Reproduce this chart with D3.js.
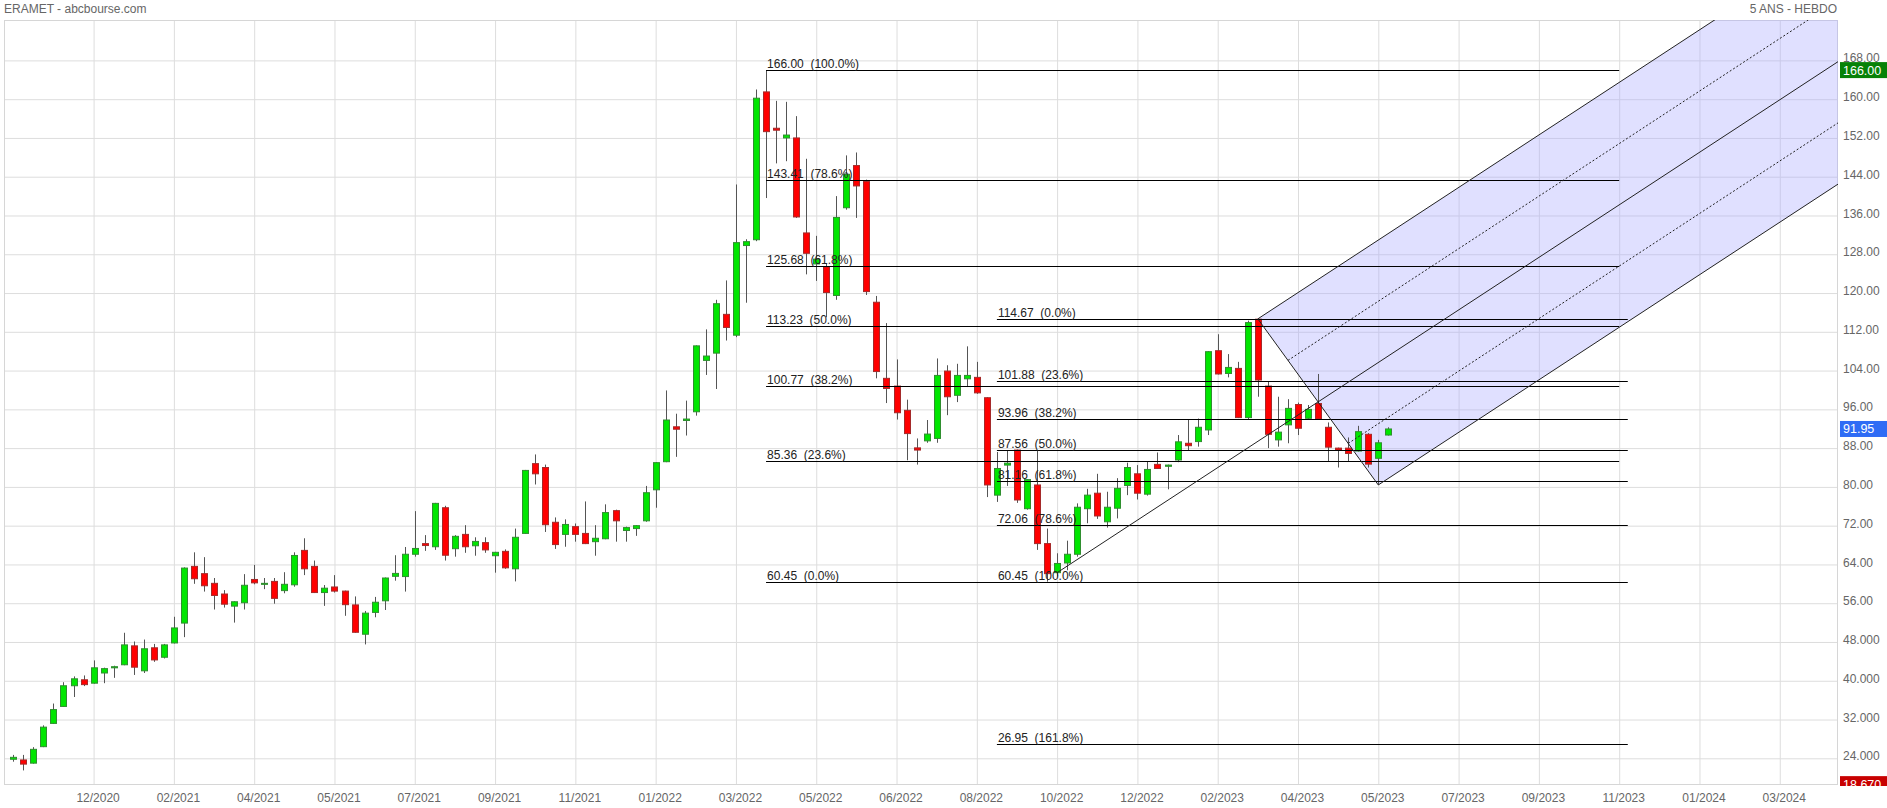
<!DOCTYPE html>
<html><head><meta charset="utf-8">
<script src="https://cdn.jsdelivr.net/npm/d3@7"></script>
<style>
html,body{margin:0;padding:0;background:#fff;overflow:hidden;}
svg{display:block;font-family:"Liberation Sans",Arial,Helvetica,sans-serif;}
</style></head><body>
<svg id="c" width="1887" height="808"></svg>
<script>
const title = "ERAMET - abcbourse.com";
const period = "5 ANS - HEBDO";
const firstWeek = "2020-10-19";

const open = [23.8,23.66,23.0,26.4,31.2,34.7,38.97,40.2,39.5,41.6,
 42.67,43.3,47.2,42.05,46.8,44.85,47.8,51.9,63.6,62.1,
 60.1,57.9,55.4,56.1,60.9,60.05,60.5,58.6,59.8,66.9,
 63.6,58.2,59.35,58.5,55.65,49.6,54.1,56.5,61.55,61.5,
 66.1,68.3,67.65,75.7,67.25,70.2,67.85,68.5,65.8,66.7,
 63.1,70.4,84.8,84.0,72.7,70.2,71.8,70.4,68.7,69.3,
 75.1,71.0,71.4,73.0,79.4,85.2,92.4,93.7,95.5,106.1,
 107.6,115.6,111.3,129.8,131.0,161.5,154.0,152.0,152.0,132.4,
 126.0,125.4,119.5,137.6,146.3,143.0,118.1,102.4,100.8,95.8,
 88.05,89.5,90.0,103.9,98.9,102.3,102.6,98.4,78.3,84.5,
 87.6,75.5,80.4,68.3,62.3,64.3,66.1,75.5,78.7,72.8,
 75.6,80.3,82.7,78.5,84.65,84.25,85.55,89.0,89.35,91.75,
 108.1,103.4,104.45,94.3,114.6,100.8,89.7,92.8,97.0,94.15,
 97.2,92.3,88.0,88.0,87.4,90.85,85.9,90.7];
const high = [24.7,24.7,26.3,30.8,35.3,39.7,40.9,41.1,44.2,42.7,
 43.1,49.9,48.1,48.5,47.6,47.6,53.2,63.4,66.5,65.5,
 61.2,58.7,56.4,62.0,63.9,61.2,61.2,62.4,66.5,69.4,
 64.8,59.75,61.8,58.6,57.4,54.4,57.3,61.3,65.9,67.6,
 75.0,70.05,76.7,76.1,70.05,72.1,69.6,69.6,66.6,67.1,
 71.4,83.5,86.7,84.6,73.7,73.3,72.45,77.0,72.1,76.4,
 75.3,71.8,72.1,80.2,85.1,99.9,95.1,97.8,109.2,112.5,
 118.6,122.6,142.4,131.1,162.0,166.0,159.65,159.45,156.5,147.7,
 131.8,126.0,140.0,148.4,149.0,143.4,119.4,113.8,106.3,98.0,
 90.0,93.8,106.5,105.1,105.4,109.0,105.8,98.5,87.2,87.6,
 87.7,81.6,87.6,71.4,66.3,68.9,76.6,79.6,82.7,79.0,
 81.8,85.0,84.5,85.3,87.1,84.6,90.7,93.8,94.1,108.0,
 111.5,107.4,105.8,114.3,114.67,101.7,98.6,98.1,97.4,96.9,
 103.3,93.3,88.1,90.2,92.6,91.1,89.7,92.3];
const low = [23.3,21.5,22.9,26.3,31.1,34.6,36.65,38.9,39.4,39.5,
 40.6,43.2,41.2,41.6,43.9,44.6,47.7,49.0,60.0,58.4,
 54.7,55.1,52.0,54.7,59.9,58.9,55.9,58.05,59.4,61.8,
 58.1,55.45,58.2,53.4,49.9,47.5,53.1,54.6,60.65,58.4,
 65.6,66.8,67.0,64.8,65.6,66.4,65.8,66.4,62.3,63.1,
 60.5,70.3,80.5,70.7,67.2,67.65,68.7,68.2,65.8,69.2,
 68.7,68.7,69.9,72.8,75.7,85.1,86.2,90.6,94.7,103.1,
 100.2,110.2,110.9,118.0,130.7,139.6,146.75,147.2,135.5,123.85,
 122.5,115.0,118.6,137.2,135.5,119.6,102.4,97.3,93.9,85.5,
 84.6,89.1,89.1,94.8,97.5,100.6,99.2,77.9,76.9,80.2,
 76.7,75.3,67.0,60.45,61.5,62.8,65.6,72.5,73.4,71.6,
 73.5,78.3,77.4,78.2,83.7,79.5,85.1,87.6,88.3,90.7,
 103.2,102.6,94.2,94.0,98.6,88.0,88.3,89.0,90.7,93.8,
 93.9,85.2,84.0,85.2,87.3,84.0,80.4,90.6];
const close = [24.2,22.8,25.85,30.43,34.05,38.97,40.4,39.2,42.67,42.5,
 42.9,47.4,42.8,46.6,44.3,47.4,50.9,63.25,61.05,59.6,
 57.6,55.8,56.3,59.7,60.2,60.1,57.0,59.9,65.85,63.1,
 58.2,59.1,58.5,55.7,50.0,53.95,56.2,61.2,62.15,66.1,
 67.3,67.9,76.6,65.9,69.8,67.65,68.75,67.0,66.5,63.3,
 69.6,83.4,82.7,72.2,68.1,72.25,70.2,68.3,69.4,74.7,
 73.0,71.6,72.0,78.8,85.0,93.8,91.9,94.0,109.1,107.0,
 117.8,112.9,130.4,130.6,160.2,153.3,153.6,152.6,135.7,128.2,
 127.0,120.1,135.6,144.5,142.1,120.3,103.8,100.3,95.3,91.0,
 87.6,90.9,103.0,98.6,103.0,103.0,99.4,80.4,83.8,84.9,
 77.3,81.5,68.3,62.1,64.2,66.1,75.8,78.3,74.0,75.8,
 79.7,84.0,78.7,83.6,83.8,84.5,89.3,88.5,92.3,107.9,
 103.3,104.65,94.3,113.9,102.05,90.85,91.3,96.2,92.1,96.0,
 94.0,88.2,87.6,86.9,91.4,84.7,89.1,91.95];

const yTicks = [24,32,40,48,56,64,72,80,88,96,104,112,120,128,136,144,152,160,168];
const yTickLabels = ["24.000","32.000","40.000","48.000","56.00","64.00","72.00","80.00","88.00","96.00",
 "104.00","112.00","120.00","128.00","136.00","144.00","152.00","160.00","168.00"];
const xTickDates = ["2020-12-14","2021-02-08","2021-04-05","2021-05-31","2021-07-26","2021-09-20","2021-11-15",
 "2022-01-10","2022-03-07","2022-05-02","2022-06-27","2022-08-22","2022-10-17","2022-12-12","2023-02-06",
 "2023-04-03","2023-05-29","2023-07-24","2023-09-18","2023-11-13","2024-01-08","2024-03-04"];
const xTickLabels = ["12/2020","02/2021","04/2021","05/2021","07/2021","09/2021","11/2021","01/2022","03/2022",
 "05/2022","06/2022","08/2022","10/2022","12/2022","02/2023","04/2023","05/2023","07/2023","09/2023",
 "11/2023","01/2024","03/2024"];

const fib1Span = ["2022-03-28","2023-11-13"];
const fib1Levels = [166.00,143.41,125.68,113.23,100.77,85.36,60.45];
const fib1Pcts = ["100.0%","78.6%","61.8%","50.0%","38.2%","23.6%","0.0%"];
const fib2Span = ["2022-09-05","2023-11-19"];
const fib2Levels = [114.67,101.88,93.96,87.56,81.16,72.06,60.45,26.95];
const fib2Pcts = ["0.0%","23.6%","38.2%","50.0%","61.8%","78.6%","100.0%","161.8%"];

const pfDates = ["2022-10-17","2023-03-06","2023-05-29"];
const pfValues = [62.3,114.67,80.4];

const markerValues = [166.00,91.95,18.67];
const markerLabels = ["166.00","91.95","18.670"];
const markerColors = ["#078207","#2f6cf5","#c80000"];

// ---------------------------------------------------------------
const parse = d3.utcParse("%Y-%m-%d");
const L = 4, R = 1838, T = 20, B = 785;
const t0 = parse(firstWeek);
const dates = open.map((_, i) => d3.utcDay.offset(t0, 7 * i));

const x = d3.scaleUtc().domain([parse("2020-10-19"), parse("2023-05-29")]).range([13.3, 1378.3]);
const y = d3.scaleLinear().domain([24, 168]).range([758.3, 60.4]);

const svg = d3.select("#c");
svg.append("rect").attr("width", 1887).attr("height", 808).attr("fill", "#fff");

const defs = svg.append("defs");
defs.append("clipPath").attr("id", "plot").append("rect")
  .attr("x", L).attr("y", T).attr("width", R - L).attr("height", B - T);
defs.append("clipPath").attr("id", "marks").append("rect")
  .attr("x", R).attr("y", 0).attr("width", 60).attr("height", B + 1);

// grid + axes
const yAxis = svg.append("g").attr("transform", `translate(${R},0)`)
  .call(d3.axisRight(y).tickValues(yTicks).tickFormat((d, i) => yTickLabels[i])
        .tickSize(-(R - L)).tickPadding(5));
const xAxis = svg.append("g").attr("transform", `translate(0,${B})`)
  .call(d3.axisBottom(x).tickValues(xTickDates.map(parse)).tickFormat((d, i) => xTickLabels[i])
        .tickSize(-(B - T)).tickPadding(8.5));
[yAxis, xAxis].forEach(g => {
  g.select(".domain").remove();
  g.selectAll(".tick line").attr("stroke", "#dddddd").attr("stroke-width", 1);
  g.selectAll(".tick text").attr("fill", "#666").style("font-size", "12px")
    .style("font-family", "'Liberation Sans', Arial, sans-serif");
});
yAxis.selectAll(".tick text").attr("dy", "0.13em");
xAxis.selectAll(".tick text").attr("dx", 4);

svg.append("rect").attr("x", L + 0.5).attr("y", T + 0.5).attr("width", R - L - 1).attr("height", B - T - 1)
  .attr("fill", "none").attr("stroke", "#d6d6d6");

// titles
svg.append("text").attr("x", 4).attr("y", 13).attr("fill", "#666").style("font-size", "12px").text(title);
svg.append("text").attr("x", 1837).attr("y", 13).attr("text-anchor", "end").attr("fill", "#666")
  .style("font-size", "12px").text(period);

const plot = svg.append("g").attr("clip-path", "url(#plot)");

// pitchfork geometry (pixel space, via scales)
const P = pfDates.map((d, i) => [x(parse(d)), y(pfValues[i])]);
const M = [(P[1][0] + P[2][0]) / 2, (P[1][1] + P[2][1]) / 2];
const dir = [M[0] - P[0][0], M[1] - P[0][1]];
function ext(q) { const t = (1950 - q[0]) / dir[0]; return [q[0] + t * dir[0], q[1] + t * dir[1]]; }
const lerp = (a, b, t) => [a[0] + (b[0] - a[0]) * t, a[1] + (b[1] - a[1]) * t];

plot.append("path")
  .attr("d", d3.line()([P[1], ext(P[1]), ext(P[2]), P[2]]) + "Z")
  .attr("fill", "rgb(170,170,255)").attr("fill-opacity", 0.36).attr("stroke", "none");

// candles
const cg = plot.append("g");
dates.forEach((d, i) => {
  const cx = Math.round(x(d)) + 0.5;
  const up = close[i] >= open[i];
  cg.append("line").attr("x1", cx).attr("x2", cx).attr("y1", y(high[i])).attr("y2", y(low[i]))
    .attr("stroke", "#555").attr("stroke-width", 1);
  const top = y(Math.max(open[i], close[i])), bot = y(Math.min(open[i], close[i]));
  cg.append("rect").attr("x", cx - 3).attr("y", top).attr("width", 6).attr("height", Math.max(1, bot - top))
    .attr("fill", up ? "#00e600" : "#ff0000")
    .attr("stroke", up ? "#2f8f2f" : "#a52a2a").attr("stroke-width", 1);
});

// fibonacci
function fib(span, levels, pcts) {
  const xa = x(parse(span[0])), xb = x(parse(span[1]));
  levels.forEach((v, i) => {
    const yy = Math.round(y(v)) + 0.5;
    plot.append("line").attr("x1", xa).attr("x2", xb).attr("y1", yy).attr("y2", yy)
      .attr("stroke", "#000").attr("stroke-width", 1);
    plot.append("text").attr("x", xa + 1).attr("y", yy - 2.5).attr("fill", "#222")
      .attr("xml:space", "preserve").style("white-space", "pre").style("font-size", "12px")
      .text(v.toFixed(2) + "  (" + pcts[i] + ")");
  });
}
fib(fib1Span, fib1Levels, fib1Pcts);
fib(fib2Span, fib2Levels, fib2Pcts);

// pitchfork lines
const pf = plot.append("g").attr("fill", "none");
const seg = (a, b, dash) => pf.append("path").attr("d", d3.line()([a, b]))
  .attr("stroke", "#222").attr("stroke-width", 1).attr("stroke-dasharray", dash || null);
seg(P[0], ext(P[0]));
seg(P[1], ext(P[1]));
seg(P[2], ext(P[2]));
seg(P[1], P[2]);
const q1 = lerp(P[1], P[2], 0.25), q2 = lerp(P[1], P[2], 0.75);
seg(q1, ext(q1), "2,2");
seg(q2, ext(q2), "2,2");

// right-hand value markers
const mg = svg.append("g").attr("clip-path", "url(#marks)");
markerValues.forEach((v, i) => {
  const yy = y(v);
  mg.append("rect").attr("x", R + 2).attr("y", yy - 8).attr("width", 50).attr("height", 16)
    .attr("fill", markerColors[i]);
  mg.append("text").attr("x", R + 5).attr("y", yy + 4.5).attr("fill", "#fff")
    .style("font-size", "12.5px").text(markerLabels[i]);
});
</script>
</body></html>
